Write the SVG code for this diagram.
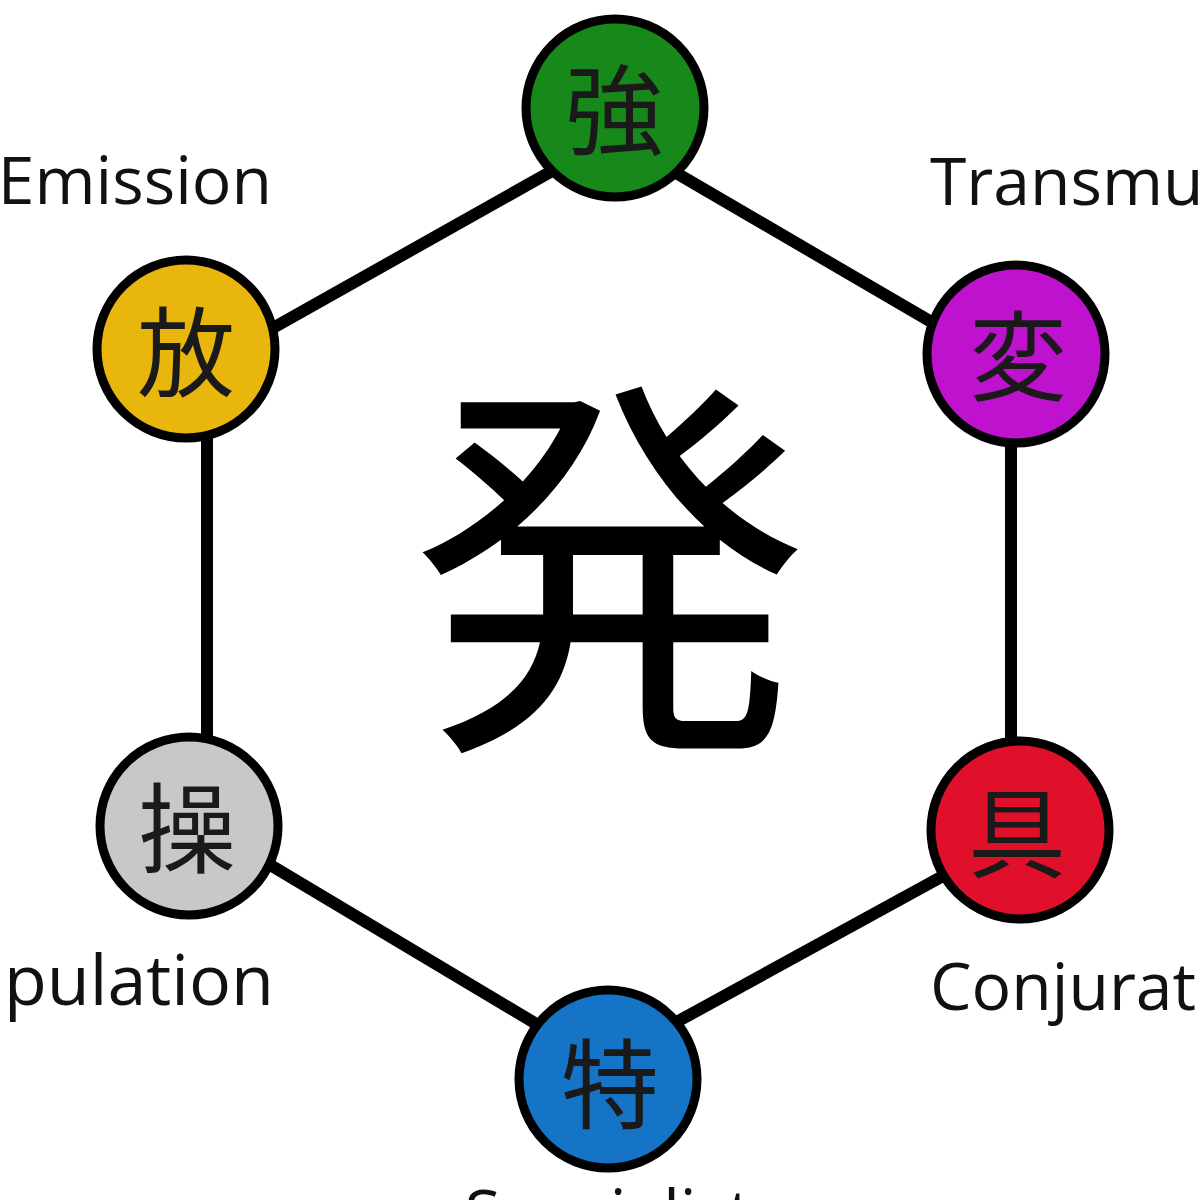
<svg xmlns="http://www.w3.org/2000/svg" width="1200" height="1200" viewBox="0 0 1200 1200">
<style>
.node circle{stroke:#000;stroke-width:9}
.kanji{font-family:"Noto Sans CJK JP","Noto Sans CJK SC",sans-serif;font-size:98px;fill:#1a1a1a;text-anchor:middle;dominant-baseline:central}
.label{font-family:"Open Sans","Noto Sans","Liberation Sans",sans-serif;font-size:66px;fill:#111}
#connectors line{stroke:#000;stroke-width:12;stroke-linecap:butt}
</style>
<rect width="1200" height="1200" fill="#fff"/>
<g id="connectors">
<line x1="200" y1="369" x2="600" y2="144"/>
<line x1="630" y1="146" x2="1000" y2="362"/>
<line x1="1011" y1="354" x2="1011" y2="830"/>
<line x1="620" y1="1053" x2="1005" y2="842"/>
<line x1="200" y1="823" x2="590" y2="1056"/>
<line x1="207" y1="349" x2="207" y2="826"/>
</g>
<g id="center">
<text x="610" y="546" style="font-family:'Noto Sans CJK JP','Noto Sans CJK SC',sans-serif;font-size:398px;fill:#000;text-anchor:middle;dominant-baseline:central">発</text>
</g>
<g id="node-enhancement" class="node">
<circle cx="615" cy="108" r="89" fill="#16891a"/>
<text class="kanji" x="614" y="104">強</text>
<text class="label" x="620" y="-5" text-anchor="middle">Enhancement</text>
</g>
<g id="node-transmutation" class="node">
<circle cx="1016" cy="354" r="89" fill="#bf12cf"/>
<text class="kanji" x="1018" y="350">変</text>
<text class="label" x="930" y="205">Transmutation</text>
</g>
<g id="node-conjuration" class="node">
<circle cx="1020" cy="830" r="89" fill="#e0102a"/>
<text class="kanji" x="1017" y="827">具</text>
<text class="label" x="930" y="1010">Conjuration</text>
</g>
<g id="node-specialist" class="node">
<circle cx="608" cy="1079" r="89" fill="#1574c6"/>
<text class="kanji" x="610" y="1078">特</text>
<text class="label" x="608" y="1237" text-anchor="middle">Specialist</text>
</g>
<g id="node-manipulation" class="node">
<circle cx="189" cy="826" r="89" fill="#c8c8c8"/>
<text class="kanji" x="187" y="822">操</text>
<text class="label" x="274" y="1005" text-anchor="end" style="font-size:70px">Manipulation</text>
</g>
<g id="node-emission" class="node">
<circle cx="186" cy="349" r="89" fill="#e8b60c"/>
<text class="kanji" x="186" y="346">放</text>
<text class="label" x="272" y="204" text-anchor="end">Emission</text>
</g>
</svg>
